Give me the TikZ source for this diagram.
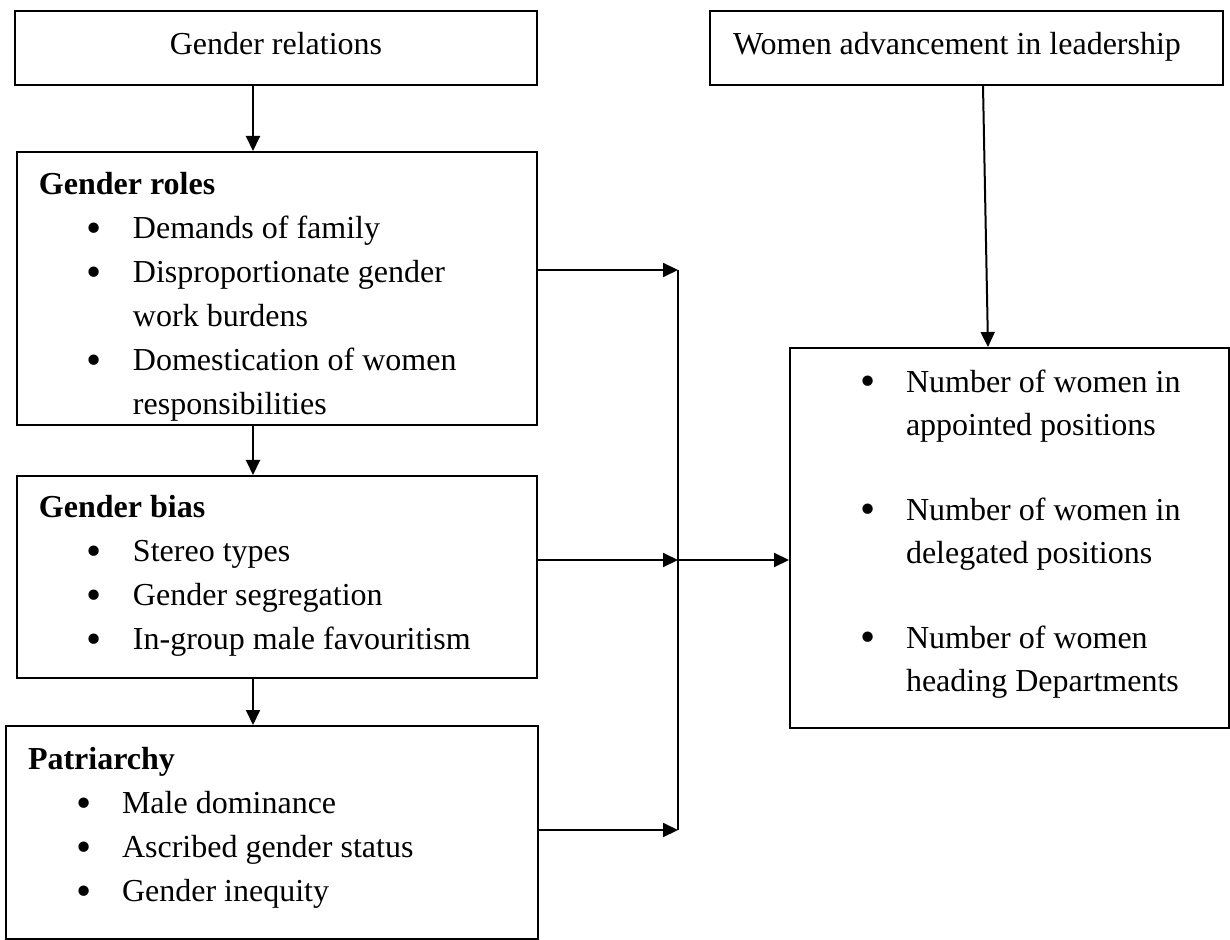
\documentclass[tikz,border=0pt]{standalone}
\usepackage{fontspec}
\usepackage{graphicx}
\setmainfont{Liberation Serif}
\usetikzlibrary{arrows.meta}

\newcommand{\head}[1]{\hspace*{11pt}\textbf{#1}}
\newcommand{\bulmark}{\raisebox{-1.9pt}{\scalebox{1.35}{\textbullet}}}
\newcommand{\bul}[1]{\hspace*{35pt}\makebox[23pt][l]{\bulmark}#1}
\newcommand{\cont}[1]{\hspace*{58pt}#1}

\tikzset{
    box/.style={draw, line width=1pt, inner sep=0pt, anchor=north west,
        font=\fontsize{16}{22}\selectfont},
    arr/.style={-{Triangle[length=7.5pt,width=7pt]}, line width=1pt},
}

\begin{document}
\begin{tikzpicture}[x=0.5pt, y=-0.5pt]
    \useasboundingbox (0,0) rectangle (1230,940);

    % top row
    \node [box] (grel) at (14,10)
        {\parbox[c][37pt][t]{261pt}{\vspace*{10.5pt}\centering Gender relations}};
    \node [box] (wadv) at (709,10)
        {\parbox[c][37pt][t]{256.5pt}{\vspace*{10.5pt}\hspace*{11.5pt}Women advancement in leadership}};

    % left column
    \node [box] (roles) at (16,151)
        {\parbox[c][136.5pt][t]{260pt}{\vspace*{10.3pt}\head{Gender roles}\\
        \bul{Demands of family}\\
        \bul{Disproportionate gender}\\
        \cont{work burdens}\\
        \bul{Domestication of women}\\
        \cont{responsibilities}}};
    \node [box] (bias) at (16,475)
        {\parbox[c][101pt][t]{260pt}{\vspace*{9.8pt}\head{Gender bias}\\
        \bul{Stereo types}\\
        \bul{Gender segregation}\\
        \bul{In-group male favouritism}}};
    \node [box] (patr) at (5,725)
        {\parbox[c][106.5pt][t]{266pt}{\vspace*{10.8pt}\head{Patriarchy}\\
        \bul{Male dominance}\\
        \bul{Ascribed gender status}\\
        \bul{Gender inequity}}};

    % right column
    \node [box, font=\fontsize{16}{21.5}\selectfont] (ind) at (789,347)
        {\parbox[c][190pt][t]{219.5pt}{\vspace*{10.8pt}\bul{Number of women in}\\
        \cont{appointed positions}\\[21pt]
        \bul{Number of women in}\\
        \cont{delegated positions}\\[21pt]
        \bul{Number of women}\\
        \cont{heading Departments}}};

    % junction points
    \coordinate (j1) at (678,270);
    \coordinate (j2) at (678,560);
    \coordinate (j3) at (678,830);

    \draw [arr] ([xshift=-11.5pt]grel.south) -- ([xshift=-12pt]roles.north);
    \draw [arr] ([xshift=-12pt]roles.south) -- ([xshift=-12pt]bias.north);
    \draw [arr] ([xshift=-12pt]bias.south) -- ([xshift=-9.5pt]patr.north);
    \draw [arr] ([xshift=8.25pt]wadv.south) -- ([xshift=-10.75pt]ind.north);

    \draw [arr] (j1 -| roles.east) -- (j1);
    \draw [arr] (j2 -| bias.east) -- (j2);
    \draw [arr] (j3 -| patr.east) -- (j3);
    \draw [line width=1pt] (j1) -- (j3);
    \draw [arr] (j2) -- (j2 -| ind.west);
\end{tikzpicture}
\end{document}
